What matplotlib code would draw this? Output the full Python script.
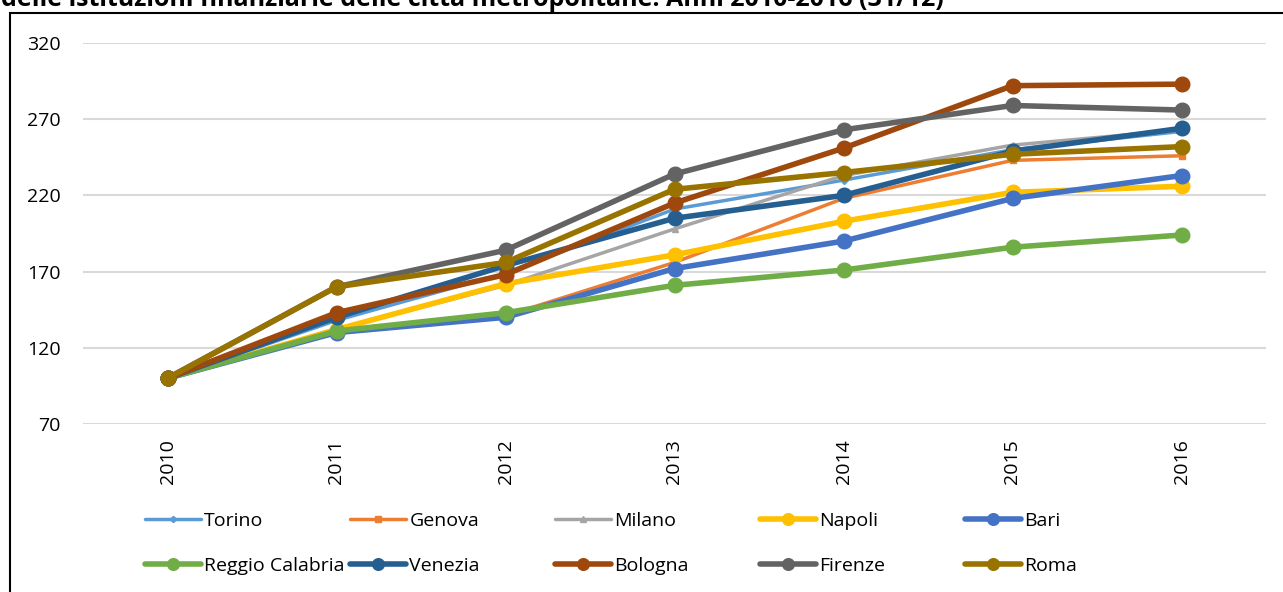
import matplotlib
matplotlib.use("Agg")
import matplotlib.pyplot as plt
from matplotlib.patches import Rectangle

plt.rcParams['font.family'] = ['Open Sans', 'DejaVu Sans']

years = ["2010", "2011", "2012", "2013", "2014", "2015", "2016"]
cities = ["Torino", "Genova", "Milano", "Napoli", "Bari",
          "Reggio Calabria", "Venezia", "Bologna", "Firenze", "Roma"]

torino = [100, 138, 169, 211, 230, 250, 262]
genova = [100, 131, 141, 176, 218, 243, 246]
milano = [100, 132, 161, 198, 233, 253, 263]
napoli = [100, 132, 162, 181, 203, 222, 226]
bari = [100, 130, 140, 172, 190, 218, 233]
reggio = [100, 131, 143, 161, 171, 186, 194]
venezia = [100, 140, 174, 205, 220, 249, 264]
bologna = [100, 143, 168, 215, 251, 292, 293]
firenze = [100, 160, 184, 234, 263, 279, 276]
roma = [100, 160, 176, 224, 235, 247, 252]

series = [torino, genova, milano, napoli, bari, reggio, venezia, bologna, firenze, roma]
colors = ["#5B9BD5", "#ED7D31", "#A5A5A5", "#FFC000", "#4472C4",
          "#70AD47", "#255E91", "#9E480E", "#636363", "#997300"]
markers = ["D", "s", "^", "o", "o", "o", "o", "o", "o", "o"]
msizes = [4, 5, 5, 10.5, 10.5, 10.5, 10.5, 10.5, 10.5, 10.5]
lwidths = [2.5, 2.5, 2.5, 4, 4, 4, 4, 4, 4, 4]

yticks = [70, 120, 170, 220, 270, 320]

W, H = 1283, 592
fig = plt.figure(figsize=(W / 100, H / 100), dpi=100)
ax = fig.add_axes([83 / W, 1 - 424 / H, (1266 - 83) / W, (424 - 43) / H])

x = list(range(len(years)))
lines = []
for i, (name, vals) in enumerate(zip(cities, series)):
    ln, = ax.plot(x, vals, color=colors[i], lw=lwidths[i], marker=markers[i],
                  ms=msizes[i], mfc=colors[i], mec=colors[i],
                  solid_capstyle='round', zorder=3 + i, clip_on=False)
    lines.append(ln)

ax.set_xlim(-0.5, len(years) - 0.5)
ax.set_ylim(70, 320)
ax.set_yticks(yticks)
ax.set_xticks(x)
ax.set_xticklabels(years, rotation=90)
ax.grid(axis='y', color='#D9D9D9', lw=1.5, zorder=0)
for s in ax.spines.values():
    s.set_visible(False)
ax.tick_params(axis='both', length=0, labelsize=14, colors='black')
ax.tick_params(axis='y', pad=16)
ax.tick_params(axis='x', pad=11)

# legend, Excel-like fixed grid
col_x = [145, 350, 555, 760, 965]
row_y = [521, 566]
for i, ln in enumerate(lines):
    r, c = divmod(i, 5)
    fig.legend(handles=[ln], labels=[cities[i]], loc='center left',
               bbox_to_anchor=(col_x[c] / W, 1 - row_y[r] / H),
               frameon=False, fontsize=14, handlelength=2.9,
               handletextpad=0.15, borderpad=0, borderaxespad=0,
               markerscale=0.8)

# outer chart border
fig.patches.append(Rectangle((10 / W, -0.05), 1.1, 1 - 13 / H + 0.05,
                             transform=fig.transFigure, fill=False,
                             ec='black', lw=1.5))

fig.text(0.001, 1 - 6 / H,
         "delle istituzioni finanziarie delle città metropolitane. Anni 2010-2016 (31/12)",
         fontsize=18, fontweight='bold', ha='left', va='baseline')

fig.savefig("out.png", dpi=100)
